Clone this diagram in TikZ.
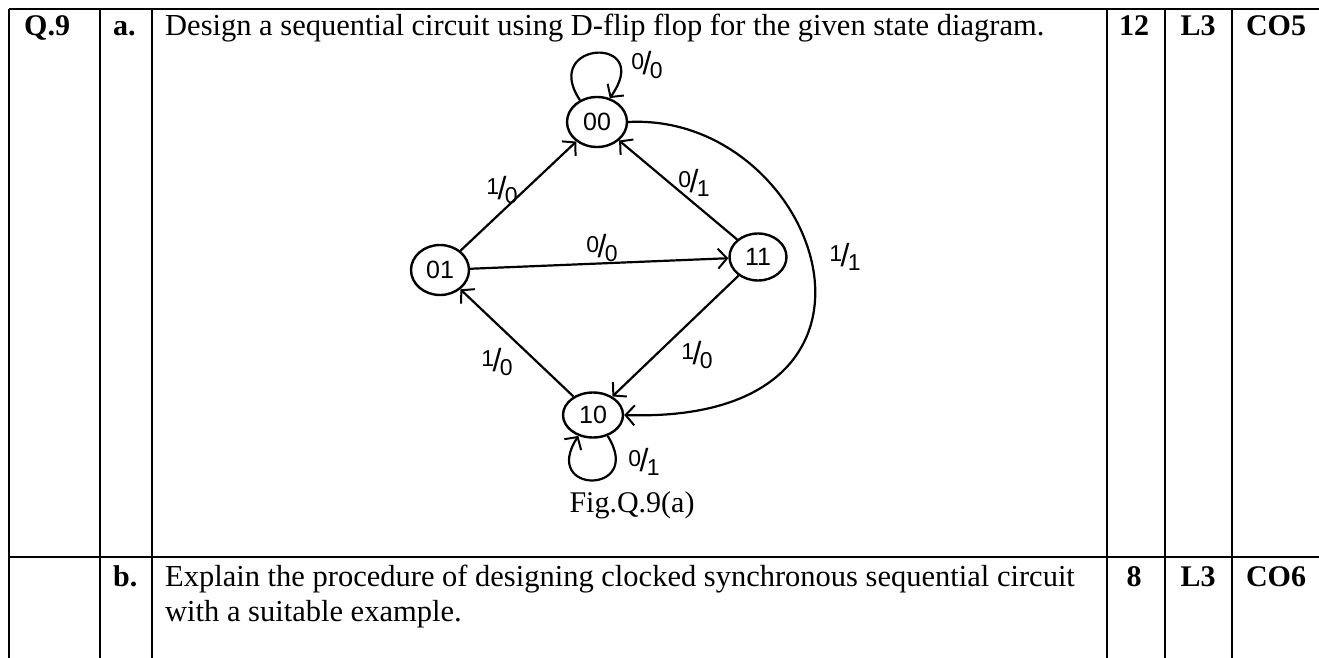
\documentclass[tikz,border=0pt]{standalone}
\usepackage{fontspec}
\setmainfont{Liberation Serif}
\newfontfamily\handfont{Liberation Sans}
\usetikzlibrary{arrows.meta,shapes.geometric}
\newcommand{\fr}[2]{\raisebox{5pt}{#1}\kern-1.5pt{\fontsize{32}{32}\selectfont/}\kern-1.5pt\raisebox{-4pt}{#2}}
\tikzset{
  rule/.style={line width=1.5pt},
  txt/.style={font=\fontsize{30.5}{35}\selectfont, inner sep=0pt, anchor=base west},
  bld/.style={font=\fontsize{30}{35}\selectfont\bfseries, inner sep=0pt, anchor=base},
  bldw/.style={font=\fontsize{30}{35}\selectfont\bfseries, inner sep=0pt, anchor=base west},
  state/.style={ellipse, draw, line width=2.4pt, inner sep=0pt, font=\handfont\fontsize{25}{25}\selectfont},
  arr/.style={line width=2.2pt, -{Straight Barb[length=9pt,width=20pt,line width=2pt]}},
  lbl/.style={font=\handfont\fontsize{23}{23}\selectfont, inner sep=0pt}
}
\begin{document}
\begin{tikzpicture}[x=1pt,y=-1pt]
\useasboundingbox (0,0) rectangle (1319,658);
% table rules
\coordinate (tl) at (9,9);
\coordinate (tr) at (1319,9);
\coordinate (ml) at (9,557);
\coordinate (mr) at (1319,557);
\draw[rule] (tl) -- (tr);
\draw[rule] (ml) -- (mr);
\foreach \x/\n in {9/a,100/b,152/c,1107/d,1165/e,1232/f}{
  \coordinate (top\n) at (\x,9);
  \coordinate (bot\n) at (\x,658);
  \draw[rule] (top\n) -- (bot\n);
}
% row a texts
\node[bldw] (q9) at (24,36) {Q.9};
\node[bldw] (qa) at (113,36) {a.};
\node[txt] (qtxt) at (165,36) {Design a sequential circuit using D-flip flop for the given state diagram.};
\node[bld] (m1) at (1134,36) {12};
\node[bld] (l1) at (1198,36) {L3};
\node[bld] (c1) at (1276,36) {CO5};
% row b texts
\node[bldw] (qb) at (113,586) {b.};
\node[txt] (btxt1) at (165,586) {Explain the procedure of designing clocked synchronous sequential circuit};
\node[txt] (btxt2) at (165,621) {with a suitable example.};
\node[bld] (m2) at (1134,586) {8};
\node[bld] (l2) at (1198,586) {L3};
\node[bld] (c2) at (1276,586) {CO6};
% states
\node[state, minimum width=60pt, minimum height=50pt] (s00) at (597,122) {00};
\node[state, minimum width=58pt, minimum height=50pt] (s01) at (440,270) {01};
\node[state, minimum width=57pt, minimum height=47pt] (s11) at (758,257) {11};
\node[state, minimum width=60pt, minimum height=45pt] (s10) at (593,415) {10};
% transitions
\draw[arr] (s00.128) .. controls (540,40) and (655,35) .. (s00.62);
\draw[arr] (s01) -- (s00);
\draw[arr] (s11) -- (s00);
\draw[arr] (s01) -- (s11);
\draw[arr] (s11) -- (s10);
\draw[arr] (s10) -- (s01);
\draw[arr] (s00.east) .. controls (820,112) and (930,425) .. (s10.east);
\draw[arr] (s10.-55) .. controls (645,495) and (540,495) .. (s10.-125);
% labels
\node[lbl] (l00) at (647,65) {\fr{0}{0}};
\node[lbl] (l0100) at (502,190) {\fr{1}{0}};
\node[lbl] (l1100) at (694,183) {\fr{0}{1}};
\node[lbl] (l0111) at (602,248) {\fr{0}{0}};
\node[lbl] (l0010) at (845,257) {\fr{1}{1}};
\node[lbl] (l1001) at (497,362) {\fr{1}{0}};
\node[lbl] (l1110) at (697,355) {\fr{1}{0}};
\node[lbl] (l1010) at (644,462) {\fr{0}{1}};
\node[font=\fontsize{30}{34}\selectfont, inner sep=0pt, anchor=base] (fig) at (632,512) {Fig.Q.9(a)};
\end{tikzpicture}
\end{document}
